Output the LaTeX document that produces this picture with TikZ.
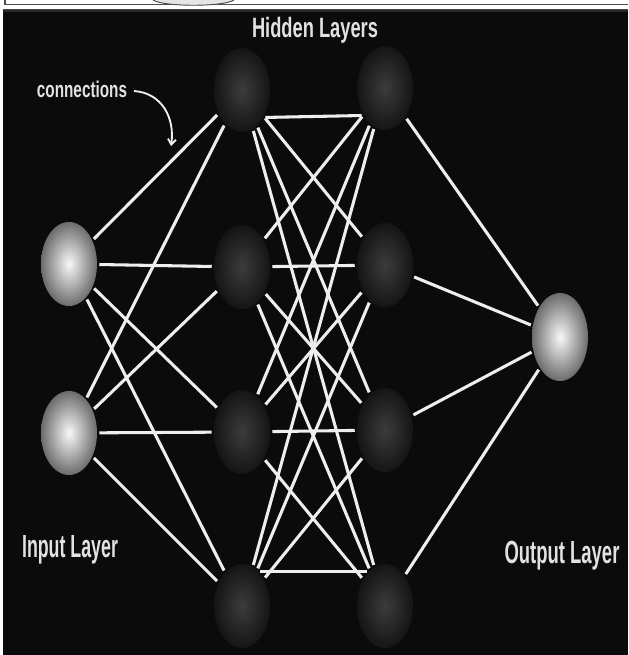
\documentclass[tikz,border=0pt]{standalone}
\usepackage{fontspec}
\setmainfont{Liberation Sans}
\usetikzlibrary{shapes.geometric,arrows.meta}
\definecolor{bg}{HTML}{0B0B0B}
\definecolor{txt}{HTML}{E2E2E2}
\definecolor{wire}{HTML}{EEEEEE}
\definecolor{darkin}{HTML}{3C3C3C}
\definecolor{darkout}{HTML}{151515}
\definecolor{lightin}{HTML}{F8F8F8}
\definecolor{lightout}{HTML}{6C6C6C}
\tikzset{
  hid/.style={ellipse, inner sep=0pt, minimum width=42pt, minimum height=63pt,
    inner color=darkin, outer color=darkout},
  lite/.style={ellipse, inner sep=0pt, minimum width=42pt, minimum height=63pt,
    inner color=lightin, outer color=lightout},
  conn/.style={draw=wire, line width=2.3pt, shorten <=1.5pt, shorten >=1.5pt},
  lbl/.style={text=txt, font=\bfseries, inner sep=0pt, anchor=base}
}
\begin{document}
\begin{tikzpicture}[x=0.75pt,y=-0.75pt]
\useasboundingbox (0,0) rectangle (628,655);
\fill[white] (0,0) rectangle (628,655);
\fill[bg] (3,9) rectangle (628,655);
\fill[gray!55!black] (3,9) rectangle (628,10.5);
\fill[gray!30!black] (3,10.5) rectangle (628,12);
\draw[gray!60!black, line width=0.9pt] (5,0) -- (5,4.5) -- (628,4.5);
\filldraw[fill=gray!20, draw=gray!60!black, line width=0.7pt] (153,0) .. controls (163,7) and (224,7) .. (234,0);

% nodes
\node[lite] (i1) at (69,264) {};
\node[lite] (i2) at (69,433) {};
\node[hid] (h1a) at (242,90) {};
\node[hid] (h1b) at (242,267) {};
\node[hid] (h1c) at (242,432) {};
\node[hid] (h1d) at (242,606) {};
\node[hid] (h2a) at (385,88) {};
\node[hid] (h2b) at (385,265) {};
\node[hid] (h2c) at (385,430) {};
\node[hid] (h2d) at (385,606) {};
\node[lite, minimum height=66pt] (o) at (560,337) {};

% input -> hidden 1
\foreach \a in {i1,i2}
  \foreach \b in {h1a,h1b,h1c,h1d}
    \draw[conn] (\a) -- (\b);

% hidden 1 -> hidden 2
\foreach \a/\b in {h1a/h2b,h1a/h2c,h1a/h2d,
                   h1b/h2a,h1b/h2b,h1b/h2c,h1b/h2d,
                   h1c/h2a,h1c/h2b,h1c/h2c,h1c/h2d,
                   h1d/h2a,h1d/h2b,h1d/h2c}
  \draw[conn] (\a) -- (\b);
\draw[conn] (h1a.-52) -- (h2a.-128);
\draw[conn] (h1d.65) -- (h2d.115);

% hidden 2 -> output
\foreach \a in {h2a,h2b,h2c,h2d}
  \draw[conn] (\a) -- (o);

% labels
\node[lbl, font=\bfseries\fontsize{21}{21}\selectfont, xscale=0.653] (hl) at (315,38) {Hidden Layers};
\node[lbl, font=\bfseries\fontsize{24}{24}\selectfont, xscale=0.556] (il) at (70,557) {Input Layer};
\node[lbl, font=\bfseries\fontsize{24}{24}\selectfont, xscale=0.577] (ol) at (562,563) {Output Layer};
\node[lbl, font=\bfseries\fontsize{17}{17}\selectfont, xscale=0.675] (cl) at (82,98) {connections};
\coordinate (ctip) at (171,146);
\draw[wire, line width=1.4pt, -{Straight Barb[length=4pt,width=6pt]}]
  (134,91) .. controls (162,93) and (175,118) .. (ctip);
\end{tikzpicture}
\end{document}
